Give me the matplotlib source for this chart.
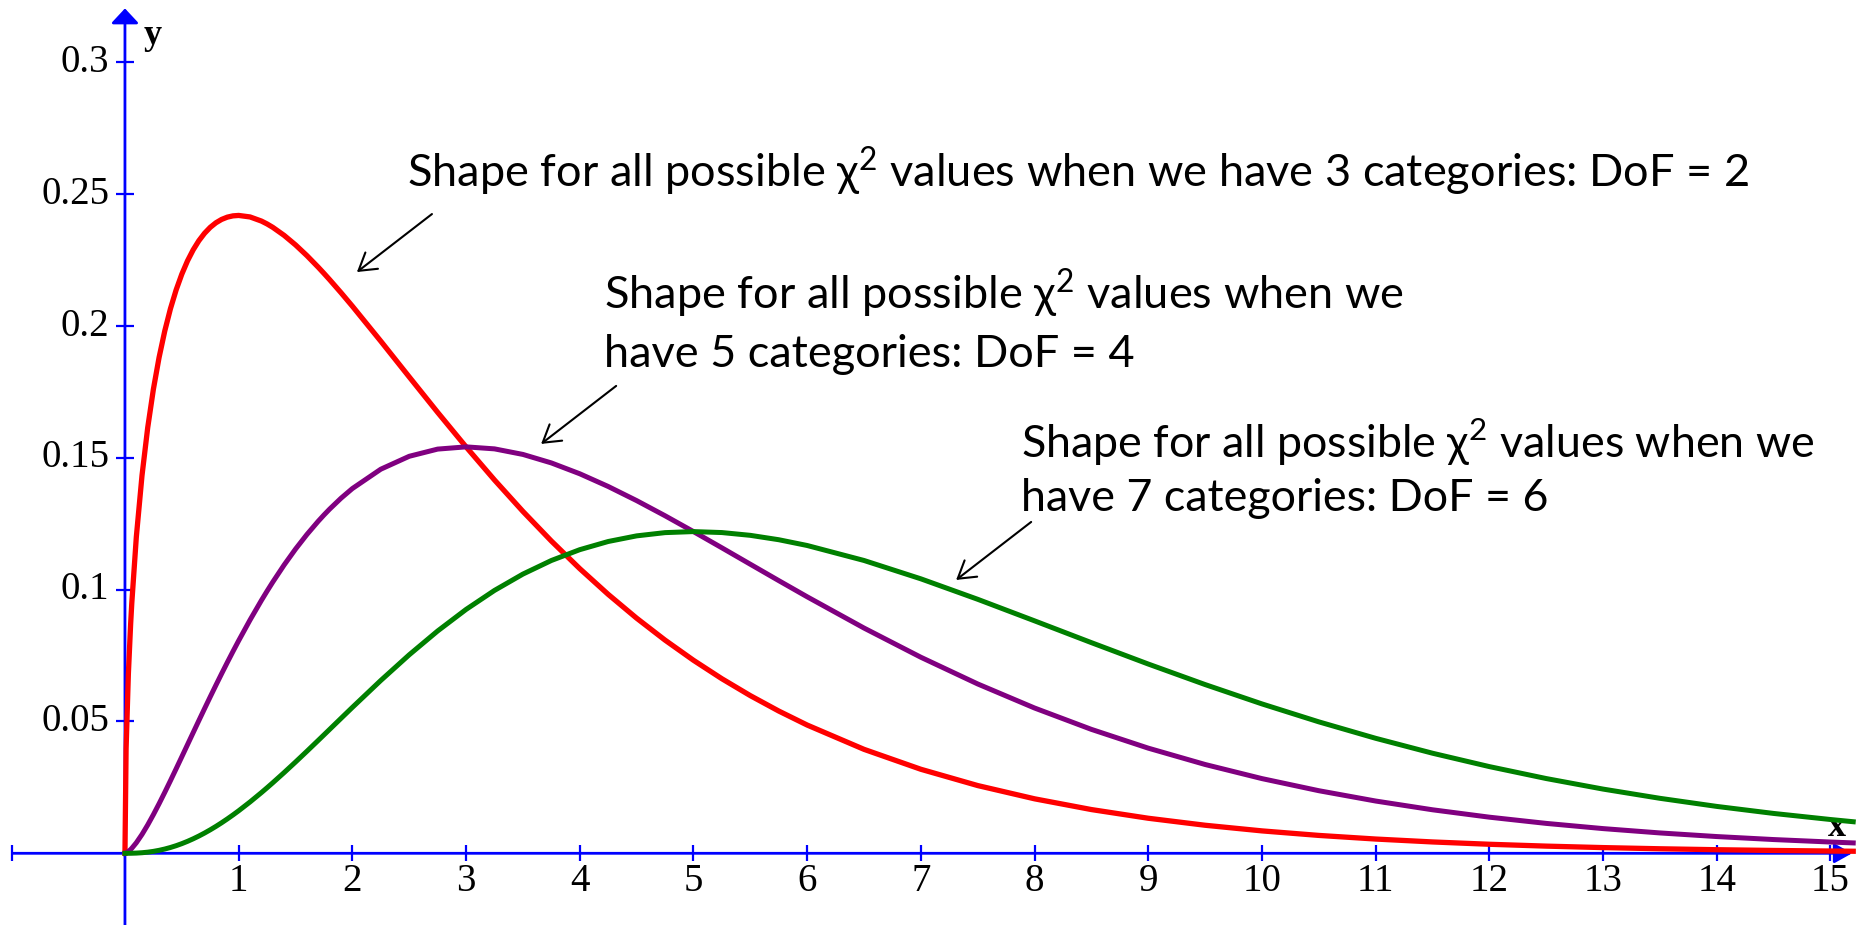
import matplotlib.pyplot as plt

plt.rcParams['mathtext.fontset'] = 'custom'
plt.rcParams['mathtext.rm'] = 'Lato'

x = [0, 0.01, 0.03, 0.05, 0.06, 0.1, 0.15, 0.2, 0.25, 0.3, 0.35, 0.4, 0.45, 0.5,
     0.55, 0.6, 0.65, 0.7, 0.75, 0.8, 0.85, 0.9, 0.95, 1.0, 1.1, 1.2, 1.25, 1.3,
     1.4, 1.5, 1.6, 1.7, 1.75, 1.8, 1.9, 2.0, 2.25, 2.5, 2.75, 3.0, 3.25, 3.5,
     3.75, 4.0, 4.25, 4.5, 4.75, 5.0, 5.25, 5.5, 5.75, 6.0, 6.5, 7.0, 7.5, 8.0,
     8.5, 9.0, 9.5, 10.0, 10.5, 11.0, 11.5, 12.0, 12.5, 13.0, 13.5, 14.0, 14.5,
     15.0, 15.2]

red = [0, 0.039695, 0.068070, 0.087003, 0.094833, 0.120004, 0.143345, 0.161434,
       0.176033, 0.188073, 0.198127, 0.206577, 0.213697, 0.219696, 0.224730,
       0.228927, 0.232392, 0.235210, 0.237454, 0.239187, 0.240460, 0.241323,
       0.241814, 0.241971, 0.241404, 0.239841, 0.238743, 0.237460, 0.234405,
       0.230800, 0.226743, 0.222322, 0.220000, 0.217611, 0.212670, 0.207554,
       0.194276, 0.180722, 0.167272, 0.154180, 0.141620, 0.129697, 0.118474,
       0.107982, 0.098226, 0.089197, 0.080873, 0.073225, 0.066217, 0.059811,
       0.053969, 0.048652, 0.039437, 0.031873, 0.025695, 0.020667, 0.016590,
       0.013296, 0.010639, 0.008500, 0.006784, 0.005408, 0.004306, 0.003426,
       0.002722, 0.002162, 0.001717, 0.001361, 0.001079, 0.000855, 0.000778]

purple = [0, 0.000132, 0.000681, 0.001450, 0.001897, 0.004000, 0.007167, 0.010762,
          0.014669, 0.018807, 0.023115, 0.027544, 0.032055, 0.036617, 0.041201,
          0.045786, 0.050352, 0.054882, 0.059364, 0.063783, 0.068130, 0.072397,
          0.076575, 0.080657, 0.088514, 0.095937, 0.099476, 0.102900, 0.109390,
          0.115400, 0.120930, 0.125983, 0.128333, 0.130567, 0.134692, 0.138369,
          0.145707, 0.150602, 0.153333, 0.154180, 0.153421, 0.151312, 0.148092,
          0.143975, 0.139154, 0.133797, 0.128049, 0.122042, 0.115880, 0.109654,
          0.103442, 0.097305, 0.085448, 0.074371, 0.064237, 0.055112, 0.047006,
          0.039887, 0.033689, 0.028334, 0.023744, 0.019828, 0.016507, 0.013703,
          0.011343, 0.009368, 0.007725, 0.006352, 0.005214, 0.004273, 0.003940]

green = [0, 0.0000003, 0.0000041, 0.0000145, 0.0000228, 0.000080, 0.000215,
         0.000430, 0.000733, 0.001128, 0.001618, 0.002204, 0.002885, 0.003662,
         0.004532, 0.005494, 0.006546, 0.007684, 0.008905, 0.010205, 0.011582,
         0.013032, 0.014549, 0.016131, 0.019473, 0.023025, 0.024869, 0.026754,
         0.030629, 0.034620, 0.038698, 0.042834, 0.044917, 0.047004, 0.051183,
         0.055348, 0.065568, 0.075301, 0.084333, 0.092508, 0.099724, 0.105919,
         0.111070, 0.115180, 0.118281, 0.120417, 0.121647, 0.122042, 0.121674,
         0.120619, 0.118958, 0.116766, 0.111082, 0.104119, 0.096355, 0.088180,
         0.079911, 0.071796, 0.064009, 0.056669, 0.049863, 0.043622, 0.037966,
         0.032887, 0.028358, 0.024357, 0.020858, 0.017786, 0.015120, 0.012818,
         0.011976]

xticks = list(range(1, 16))
yticks = [0.05, 0.1, 0.15, 0.2, 0.25, 0.3]
ytick_labels = ['0.05', '0.1', '0.15', '0.2', '0.25', '0.3']

chi2 = '\u03c7$^{\\mathrm{2}}$'
notes = [
    'Shape for all possible ' + chi2 + ' values when we have 3 categories: DoF = 2',
    'Shape for all possible ' + chi2 + ' values when we\nhave 5 categories: DoF = 4',
    'Shape for all possible ' + chi2 + ' values when we\nhave 7 categories: DoF = 6',
]

fig = plt.figure(figsize=(18.63, 9.25), dpi=100)
ax = fig.add_axes([0, 0, 1, 1])
ax.set_xlim(-1.099, 15.286)
ax.set_ylim(-0.0272, 0.3237)
ax.axis('off')

axis_col = (0, 0, 1)
serif = 'Liberation Serif'

# axes with arrow heads
ax.annotate('', xy=(15.19, 0), xytext=(-0.99, 0),
            arrowprops=dict(arrowstyle='-|>,head_length=0.9,head_width=0.5',
                            mutation_scale=12, color=axis_col, lw=2.0,
                            shrinkA=0, shrinkB=0))
ax.annotate('', xy=(0, 0.3205), xytext=(0, -0.03),
            arrowprops=dict(arrowstyle='-|>,head_length=0.75,head_width=0.7',
                            mutation_scale=12, color=axis_col, lw=2.0,
                            shrinkA=0, shrinkB=0))

# tick marks
ax.plot(xticks + [-0.99], [0] * 16, ls='none', marker='|', ms=12, mew=1.6,
        color=axis_col)
ax.plot([0] * len(yticks), yticks, ls='none', marker='_', ms=13, mew=1.6,
        color=axis_col)

for t in xticks:
    ax.text(t, -0.0143, str(t), ha='center', va='baseline', fontsize=28,
            family=serif)
for t, lab in zip(yticks, ytick_labels):
    ax.text(-0.14, t, lab, ha='right', va='center', fontsize=28, family=serif)

ax.text(0.16, 0.307, 'y', fontsize=26, family=serif, fontweight='bold',
        ha='left', va='baseline')
ax.text(14.98, 0.0065, 'x', fontsize=26, family=serif, fontweight='bold',
        ha='left', va='baseline')

# the three curves
ax.plot(x, red, color=(1, 0, 0), lw=3.8, zorder=5, solid_joinstyle='round')
ax.plot(x, purple, color=(0.5, 0, 0.5), lw=3.6, zorder=5, solid_joinstyle='round')
ax.plot(x, green, color=(0, 0.5, 0), lw=3.6, zorder=5, solid_joinstyle='round')

# notes with pointer arrows
txt_font = 'Lato'
ax.text(2.48, 0.2525, notes[0], fontsize=32.5, family=txt_font, ha='left',
        va='baseline')
ax.text(4.21, 0.1845, notes[1], fontsize=32.5, family=txt_font, ha='left',
        va='baseline', linespacing=1.4)
ax.text(7.88, 0.1300, notes[2], fontsize=32.2, family=txt_font, ha='left',
        va='baseline', linespacing=1.3)

pointers = [((2.70, 0.2425), (2.04, 0.2205)),
            ((4.32, 0.1773), (3.66, 0.1553)),
            ((7.97, 0.1257), (7.31, 0.1037))]
for tail, head in pointers:
    ax.annotate('', xy=head, xytext=tail,
                arrowprops=dict(arrowstyle='->,head_length=0.6,head_width=0.37',
                                mutation_scale=20, color='black', lw=1.5,
                                shrinkA=0, shrinkB=0))

fig.savefig('out.png', dpi=100)
